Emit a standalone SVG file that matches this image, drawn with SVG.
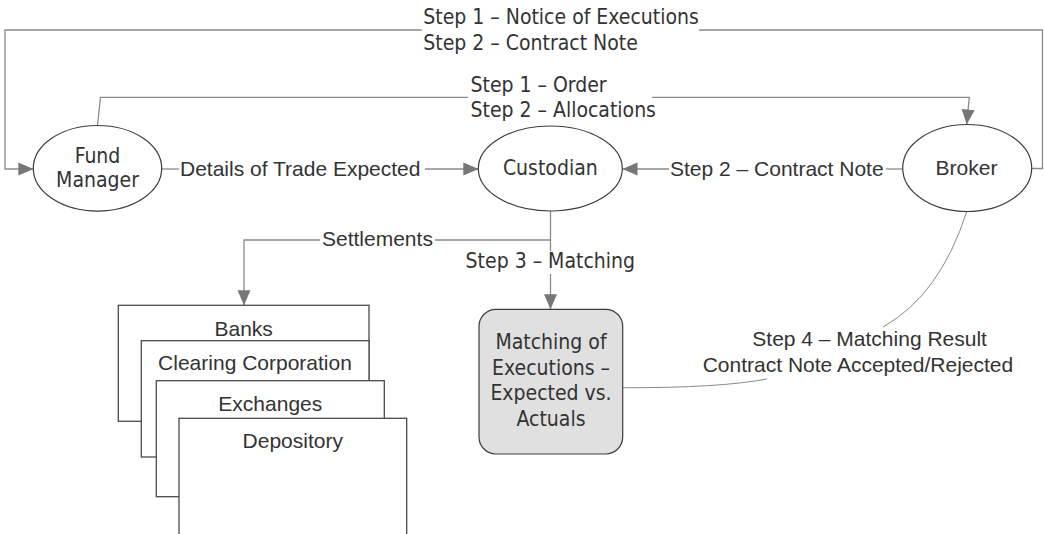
<svg xmlns="http://www.w3.org/2000/svg" width="1044" height="534" viewBox="0 0 1044 534">
  <style>
    .conn { fill: none; stroke: #8a8a8a; stroke-width: 1.3; }
    .link { fill: none; stroke: #8a8a8a; stroke-width: 1; }
    .node { fill: #ffffff; stroke: #3c3c3c; stroke-width: 1.2; }
    .proc { fill: #e0e0e0; stroke: #3c3c3c; stroke-width: 1.2; }
    .box  { fill: #ffffff; stroke: #4a4a4a; stroke-width: 1.3; }
    .ta { font-family: "DejaVu Sans Condensed", "DejaVu Sans", sans-serif; font-stretch: condensed; font-size: 21px; fill: #333333; }
    .ar { font-family: "Liberation Sans", Arial, sans-serif; font-size: 21px; fill: #333333; }
    .mid { text-anchor: middle; }
  </style>
  <defs>
    <marker id="arrow" viewBox="0 0 15 14" refX="15" refY="7" markerWidth="15" markerHeight="14" markerUnits="userSpaceOnUse" orient="auto">
      <path d="M0,0.5 L15,7 L0,13.5 Z" fill="#777777"/>
    </marker>
  </defs>
  <rect width="1044" height="534" fill="#ffffff"/>

  <!-- connectors -->
  <g id="connectors">
    <!-- Broker back to Fund Manager, routed over the top -->
    <path class="conn" d="M1032,168.5 H1042.5 V30 H699"/>
    <path class="conn" d="M421.7,30 H5 V169 H33.3" marker-end="url(#arrow)"/>
    <!-- Fund Manager to Broker -->
    <path class="conn" d="M97.5,125.5 L100.5,97.3 H468"/>
    <path class="conn" d="M652,97.3 H969.3 L966.7,124.5" marker-end="url(#arrow)"/>
    <!-- Fund Manager to Custodian -->
    <path class="conn" d="M161.8,169 H179"/>
    <path class="conn" d="M425,169 H478.3" marker-end="url(#arrow)"/>
    <!-- Broker to Custodian -->
    <path class="conn" d="M902.7,169 H886"/>
    <path class="conn" d="M669,169 H622.5" marker-end="url(#arrow)"/>
    <!-- Custodian to matching -->
    <path class="conn" d="M550.5,211 V251"/>
    <path class="conn" d="M550.5,274 V309.3" marker-end="url(#arrow)"/>
    <!-- Custodian to settlement parties -->
    <path class="conn" d="M550.5,240 H435"/>
    <path class="conn" d="M320,240 H244 V305.3" marker-end="url(#arrow)"/>
    <!-- matching result back to Broker -->
    <path class="link" d="M966.7,211.7 Q940,295 883,327"/>
    <path class="link" d="M767,379 Q720,388 622.7,387.7"/>
  </g>

  <!-- connector labels -->
  <g id="labels">
    <text class="ta" x="423.3" y="24">Step 1 – Notice of Executions</text>
    <text class="ta" x="423.3" y="50">Step 2 – Contract Note</text>
    <text class="ta" x="470.5" y="91.5">Step 1 – Order</text>
    <text class="ta" x="470.5" y="117.3">Step 2 – Allocations</text>
    <text class="ar" x="180" y="175.5">Details of Trade Expected</text>
    <text class="ar" x="670" y="175.5">Step 2 – Contract Note</text>
    <text class="ar" x="322" y="245.7">Settlements</text>
    <text class="ta mid" x="550.3" y="267.7">Step 3 – Matching</text>
    <text class="ar" x="752.3" y="346">Step 4 – Matching Result</text>
    <text class="ar" x="702.7" y="371.7">Contract Note Accepted/Rejected</text>
  </g>

  <g id="fund-manager">
    <ellipse class="node" cx="97.5" cy="168.3" rx="64.2" ry="42.8"/>
    <text class="ta mid" x="97.5" y="162.7">Fund</text>
    <text class="ta mid" x="97.5" y="186.7">Manager</text>
  </g>

  <g id="custodian">
    <ellipse class="node" cx="550.3" cy="168.5" rx="72" ry="42.5"/>
    <text class="ta mid" x="550.3" y="175.3">Custodian</text>
  </g>

  <g id="broker">
    <ellipse class="node" cx="967.2" cy="168" rx="64.5" ry="43.5"/>
    <text class="ar mid" x="966.5" y="174.5">Broker</text>
  </g>

  <g id="matching">
    <rect class="proc" x="479" y="309.3" width="143.7" height="144.7" rx="17" ry="17"/>
    <text class="ta mid" x="551" y="349">Matching of</text>
    <text class="ta mid" x="551" y="375">Executions –</text>
    <text class="ta mid" x="551" y="400.3">Expected vs.</text>
    <text class="ta mid" x="551" y="425.7">Actuals</text>
  </g>

  <g id="banks">
    <rect class="box" x="118.3" y="305.3" width="250.7" height="116"/>
    <text class="ar mid" x="243.7" y="335.5">Banks</text>
  </g>

  <g id="clearing-corporation">
    <rect class="box" x="141.3" y="340.7" width="227.7" height="116.3"/>
    <text class="ar mid" x="255" y="370.3">Clearing Corporation</text>
  </g>

  <g id="exchanges">
    <rect class="box" x="156.3" y="380.7" width="228" height="116"/>
    <text class="ar mid" x="270.3" y="410.7">Exchanges</text>
  </g>

  <g id="depository">
    <rect class="box" x="179" y="418.3" width="227.7" height="140"/>
    <text class="ar mid" x="292.8" y="448.3">Depository</text>
  </g>
</svg>
